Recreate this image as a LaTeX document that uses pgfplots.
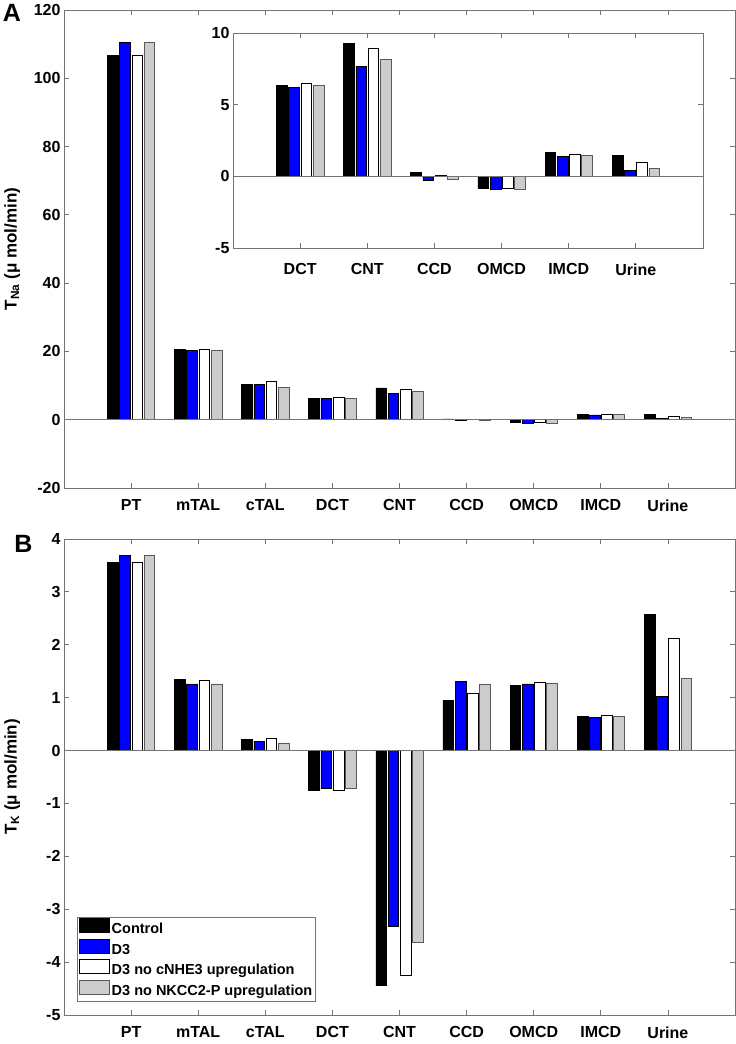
\documentclass[border=0pt]{standalone}
\usepackage{fontspec}
\setmainfont{Liberation Sans}
\usepackage{pgfplots}
\usepackage{pgfplotstable}
\pgfplotsset{compat=1.18}
\definecolor{axgray}{RGB}{115,115,115}
\definecolor{bargray}{RGB}{204,204,204}
\definecolor{mblue}{RGB}{0,0,255}

\pgfplotstableread{
x c d n k
1 106.8 110.5 106.8 110.5
2 20.5 20.3 20.6 20.2
3 10.3 10.3 11.3 9.5
4 6.32 6.22 6.50 6.32
5 9.30 7.69 8.90 8.18
6 0.26 -0.30 0.09 -0.21
7 -0.82 -0.93 -0.86 -0.93
8 1.65 1.40 1.56 1.45
9 1.47 0.44 1.00 0.56
}\Na

\pgfplotstableread{
x c d n k
4 6.32 6.22 6.50 6.32
5 9.30 7.69 8.90 8.18
6 0.26 -0.30 0.09 -0.21
7 -0.82 -0.93 -0.86 -0.93
8 1.65 1.40 1.56 1.45
9 1.47 0.44 1.00 0.56
}\NaIn

\pgfplotstableread{
x c d n k
1 3.55 3.69 3.55 3.69
2 1.34 1.26 1.33 1.26
3 0.21 0.18 0.24 0.145
4 -0.76 -0.72 -0.755 -0.72
5 -4.445 -3.32 -4.245 -3.62
6 0.95 1.31 1.09 1.26
7 1.23 1.26 1.29 1.28
8 0.65 0.62 0.67 0.64
9 2.57 1.03 2.13 1.36
}\K

\pgfplotsset{
  mystyle/.style={
    scale only axis,
    anchor=south west,
    axis line style={draw=axgray, line width=0.8pt},
    every tick/.style={draw=axgray, line width=0.8pt},
    tick align=inside,
    major tick length=5pt,
    tick label style={font=\bfseries\fontsize{16}{19}\selectfont},
    /pgf/number format/assume math mode=true,
    xticklabel style={yshift=-8pt},
    ylabel style={font=\bfseries\fontsize{17}{20}\selectfont, at={(axis description cs:-0.0894,0.5)}, anchor=north, inner sep=0pt},
  },
  swatch/.style={legend image code/.code={\draw[##1, line width=0.8pt] (0pt,-2.5pt) rectangle (30pt,11.5pt);}},
  barC/.style={ybar, bar width=0.16, bar shift=-0.273, fill=black, draw=black, line width=0.6pt},
  barD/.style={ybar, bar width=0.16, bar shift=-0.091, fill=mblue, draw=black, line width=0.6pt},
  barN/.style={ybar, bar width=0.16, bar shift=0.091, fill=white, draw=black, line width=0.6pt},
  barK/.style={ybar, bar width=0.16, bar shift=0.273, fill=bargray, draw=black!65, line width=0.6pt},
}

\begin{document}
\begin{tikzpicture}[x=1pt,y=1pt]
\useasboundingbox (0pt,0pt) rectangle (736pt,1044pt);

% Panel A
\begin{axis}[mystyle,
  at={(64pt,556pt)}, width=671pt, height=478pt,
  xmin=0, xmax=10, ymin=-20, ymax=120,
  xtick={1,...,9},
  xticklabels={PT,mTAL,cTAL,DCT,CNT,CCD,OMCD,IMCD,Urine},
  ytick={-20,0,20,40,60,80,100,120},
  ylabel={T\textsubscript{Na} (μ mol/min)},
]
\addplot[barC] table[x=x,y=c]{\Na};
\addplot[barD] table[x=x,y=d]{\Na};
\addplot[barN] table[x=x,y=n]{\Na};
\addplot[barK] table[x=x,y=k]{\Na};
\draw[axgray, line width=0.7pt] (axis cs:0,0) -- (axis cs:10,0);
\end{axis}

% Inset
\begin{axis}[mystyle,
  at={(233pt,796pt)}, width=470pt, height=215pt,
  xmin=3, xmax=10, ymin=-5, ymax=10,
  xtick={4,...,9},
  xticklabels={DCT,CNT,CCD,OMCD,IMCD,Urine},
  ytick={-5,0,5,10},
  axis background/.style={fill=white},
  xticklabel style={yshift=-4pt},
]
\addplot[barC] table[x=x,y=c]{\NaIn};
\addplot[barD] table[x=x,y=d]{\NaIn};
\addplot[barN] table[x=x,y=n]{\NaIn};
\addplot[barK] table[x=x,y=k]{\NaIn};
\draw[axgray, line width=0.7pt] (axis cs:3,0) -- (axis cs:10,0);
\end{axis}

% Panel B
\begin{axis}[mystyle,
  at={(64pt,29pt)}, width=671pt, height=476pt,
  xmin=0, xmax=10, ymin=-5, ymax=4,
  xtick={1,...,9},
  xticklabels={PT,mTAL,cTAL,DCT,CNT,CCD,OMCD,IMCD,Urine},
  ytick={-5,-4,-3,-2,-1,0,1,2,3,4},
  ylabel={T\textsubscript{K} (μ mol/min)},
  legend cell align=left,
  legend style={at={(rel axis cs:0.0194,0.0273)}, anchor=south west,
    draw=axgray, line width=0.8pt, inner xsep=2pt, inner ysep=1pt,
    font=\bfseries\fontsize{14.5}{16}\selectfont,
    nodes={text height=10.5pt, text depth=3pt, inner xsep=1.5pt, inner ysep=2pt},
    row sep=0pt},
]
\addplot[barC, swatch] table[x=x,y=c]{\K};
\addplot[barD, swatch] table[x=x,y=d]{\K};
\addplot[barN, swatch] table[x=x,y=n]{\K};
\addplot[barK, swatch] table[x=x,y=k]{\K};
\draw[axgray, line width=0.7pt] (axis cs:0,0) -- (axis cs:10,0);
\legend{Control,D3,D3 no cNHE3 upregulation,D3 no NKCC2-P upregulation}
\end{axis}

\node[font=\bfseries\fontsize{25}{25}\selectfont] at (12pt,1031pt) {A};
\node[font=\bfseries\fontsize{25}{25}\selectfont] at (23.5pt,500pt) {B};
\end{tikzpicture}
\end{document}
